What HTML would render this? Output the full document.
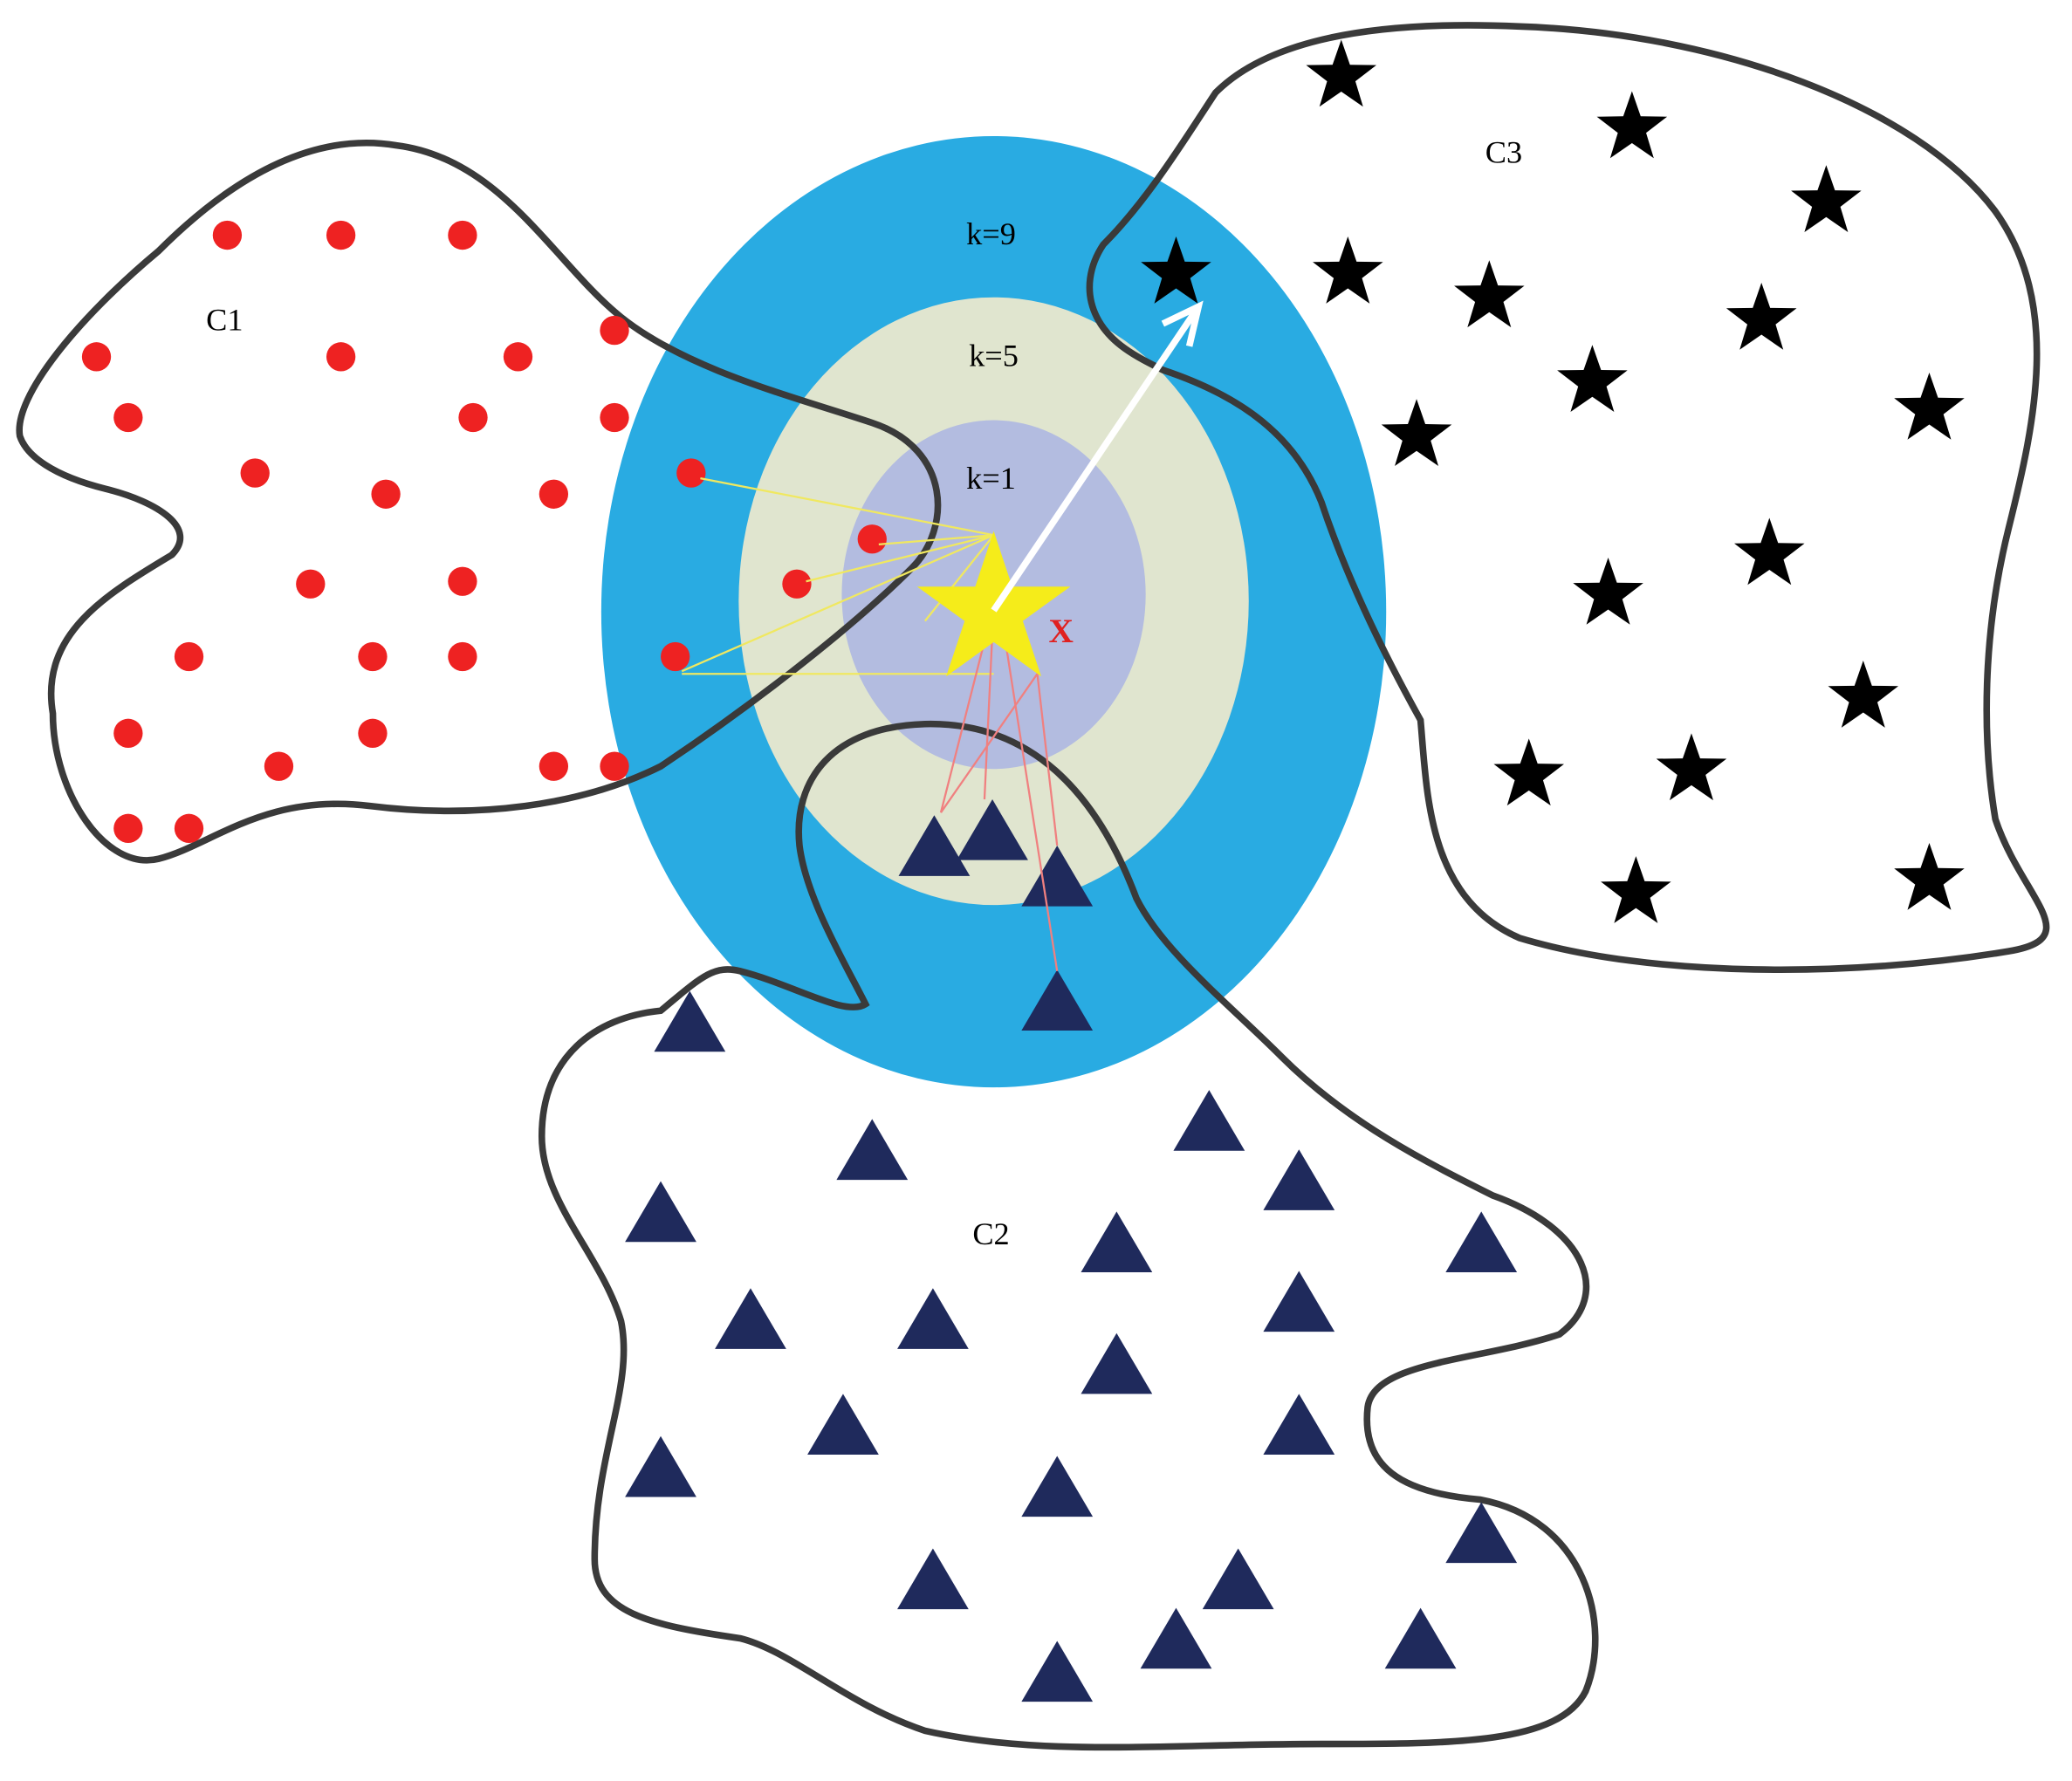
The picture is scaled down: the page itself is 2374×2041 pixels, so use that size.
<!DOCTYPE html>
<html><head><meta charset="utf-8"><style>
html,body{margin:0;padding:0;background:#fff}
svg{display:block}
text{font-family:"Liberation Serif",serif}
</style></head><body>
<svg width="2374" height="2041" viewBox="0 0 1568 1348" xmlns="http://www.w3.org/2000/svg">
<defs>
<circle id="d" r="11" fill="#EE2222"/>
<polygon id="s" points="0,-28 6.6,-9 26.6,-8.7 10.7,3.5 16.5,22.7 0,11.3 -16.5,22.7 -10.7,3.5 -26.6,-8.7 -6.6,-9" fill="#000"/>
<polygon id="t" points="0,-23 27,23 -27,23" fill="#1F2A5C"/>
</defs>
<ellipse cx="752" cy="463" rx="297" ry="360" fill="#29ABE2"/>
<ellipse cx="752" cy="455" rx="193" ry="230" fill="#E0E5CF"/>
<ellipse cx="752" cy="450" rx="115" ry="132" fill="#B3BCE0"/>
<text x="750" y="185" font-size="24" text-anchor="middle">k=9</text>
<text x="752" y="277" font-size="24" text-anchor="middle">k=5</text>
<text x="750" y="370" font-size="24" text-anchor="middle">k=1</text>
<g fill="none" stroke-width="5" stroke="#3a3a3a">
<path d="M15,330 C10,300 60,240 120,190 C180,130 240,100 300,110 C380,120 420,200 470,240 C520,280 600,300 660,320 C720,340 720,400 690,430 C640,480 560,540 500,580 C440,610 360,620 280,610 C200,600 160,640 120,650 C80,660 40,600 40,540 C30,480 80,450 130,420 C150,400 120,380 80,370 C40,360 20,345 15,330Z"/>
<path d="M835,185 C870,150 900,100 920,70 C960,30 1040,15 1150,20 C1300,25 1450,80 1510,160 C1560,230 1540,320 1520,400 C1500,480 1500,560 1510,620 C1530,680 1580,710 1520,720 C1400,740 1250,740 1150,710 C1080,680 1080,600 1075,545 C1050,500 1020,440 1000,380 C980,330 940,300 880,280 C860,270 840,260 830,240 C820,220 825,200 835,185Z"/>
<path d="M655,760 C640,730 610,680 605,640 C600,590 630,550 700,548 C780,546 830,600 860,680 C880,720 930,760 970,800 C1020,850 1080,880 1130,905 C1200,930 1220,980 1180,1010 C1120,1030 1040,1030 1035,1065 C1030,1110 1060,1130 1120,1135 C1200,1150 1220,1230 1200,1280 C1180,1320 1100,1320 1000,1320 C880,1320 790,1330 700,1310 C640,1290 600,1250 560,1240 C490,1230 450,1220 450,1180 C450,1100 480,1050 470,1000 C455,950 410,910 410,860 C410,800 450,770 500,765 C530,740 540,730 560,735 C600,745 640,770 655,760Z"/>
</g>
<text x="170" y="250" font-size="24" text-anchor="middle">C1</text>
<text x="1138" y="123" font-size="24" text-anchor="middle">C3</text>
<text x="750" y="942" font-size="24" text-anchor="middle">C2</text>
<g>
<use href="#d" x="172" y="178"/><use href="#d" x="258" y="178"/><use href="#d" x="350" y="178"/><use href="#d" x="465" y="250"/><use href="#d" x="73" y="270"/><use href="#d" x="258" y="270"/><use href="#d" x="392" y="270"/><use href="#d" x="97" y="316"/><use href="#d" x="358" y="316"/><use href="#d" x="465" y="316"/><use href="#d" x="193" y="358"/><use href="#d" x="292" y="374"/><use href="#d" x="419" y="374"/><use href="#d" x="523" y="358"/><use href="#d" x="660" y="408"/><use href="#d" x="603" y="442"/><use href="#d" x="235" y="442"/><use href="#d" x="350" y="440"/><use href="#d" x="143" y="497"/><use href="#d" x="282" y="497"/><use href="#d" x="350" y="497"/><use href="#d" x="511" y="497"/><use href="#d" x="97" y="555"/><use href="#d" x="282" y="555"/><use href="#d" x="211" y="580"/><use href="#d" x="419" y="580"/><use href="#d" x="465" y="580"/><use href="#d" x="97" y="627"/><use href="#d" x="143" y="627"/>
</g>
<g>
<use href="#s" x="1015" y="58"/><use href="#s" x="1235" y="97"/><use href="#s" x="1382" y="153"/><use href="#s" x="1020" y="207"/><use href="#s" x="890" y="207"/><use href="#s" x="1127" y="225"/><use href="#s" x="1333" y="242"/><use href="#s" x="1205" y="289"/><use href="#s" x="1460" y="310"/><use href="#s" x="1072" y="330"/><use href="#s" x="1339" y="420"/><use href="#s" x="1217" y="450"/><use href="#s" x="1410" y="528"/><use href="#s" x="1157" y="587"/><use href="#s" x="1280" y="583"/><use href="#s" x="1238" y="676"/><use href="#s" x="1460" y="666"/>
</g>
<g>
<use href="#t" x="707" y="640"/><use href="#t" x="751" y="628"/><use href="#t" x="800" y="663"/><use href="#t" x="800" y="757"/><use href="#t" x="522" y="773"/><use href="#t" x="660" y="870"/><use href="#t" x="915" y="848"/><use href="#t" x="500" y="917"/><use href="#t" x="983" y="893"/><use href="#t" x="845" y="940"/><use href="#t" x="1121" y="940"/><use href="#t" x="568" y="998"/><use href="#t" x="706" y="998"/><use href="#t" x="983" y="985"/><use href="#t" x="845" y="1032"/><use href="#t" x="638" y="1078"/><use href="#t" x="983" y="1078"/><use href="#t" x="500" y="1110"/><use href="#t" x="800" y="1125"/><use href="#t" x="1121" y="1160"/><use href="#t" x="706" y="1195"/><use href="#t" x="937" y="1195"/><use href="#t" x="890" y="1240"/><use href="#t" x="1075" y="1240"/><use href="#t" x="800" y="1265"/>
</g>
<g stroke="#F0E860" stroke-width="1.5" fill="none">
<line x1="752" y1="405" x2="530" y2="362"/><line x1="752" y1="405" x2="665" y2="412"/><line x1="752" y1="405" x2="610" y2="440"/><line x1="752" y1="405" x2="516" y2="508"/><line x1="752" y1="405" x2="700" y2="470"/>
<line x1="752" y1="510" x2="516" y2="510"/>
</g>
<g stroke="#F08080" stroke-width="1.5" fill="none">
<line x1="752" y1="458" x2="712" y2="615"/><line x1="752" y1="458" x2="745" y2="605"/><line x1="785" y1="510" x2="800" y2="640"/><line x1="760" y1="480" x2="800" y2="735"/><line x1="785" y1="510" x2="712" y2="615"/>
</g>
<polygon points="752,402 766,444 810,444 774,470 788,512 752,486 716,512 730,470 694,444 738,444" fill="#F5EC1A"/>
<text x="803" y="486" font-size="26" fill="#E02020" text-anchor="middle" font-weight="bold">X</text>
<line x1="752" y1="462" x2="905" y2="235" stroke="#fff" stroke-width="5"/>
<polyline points="880,245 907,232 900,262" fill="none" stroke="#fff" stroke-width="5"/>
</svg>
</body></html>
